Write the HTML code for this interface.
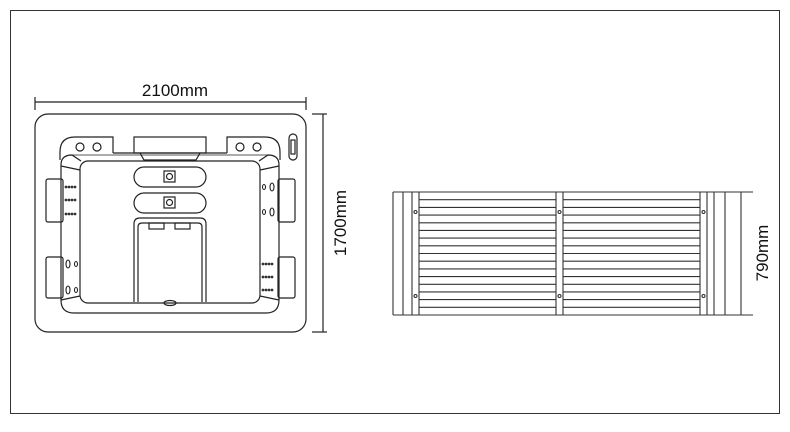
<!DOCTYPE html>
<html><head><style>body{margin:0;background:#fff}svg{display:block}</style></head><body>
<svg width="790" height="432" viewBox="0 0 790 432" xmlns="http://www.w3.org/2000/svg" font-family="Liberation Sans, sans-serif">
<rect x="10.5" y="10.5" width="769" height="403" fill="none" stroke="#333" stroke-width="1"/>
<g fill="none" stroke="#222" stroke-width="1.2">
<line x1="35" y1="102" x2="306" y2="102"/><line x1="35" y1="97" x2="35" y2="110"/><line x1="306" y1="97" x2="306" y2="110"/>
<line x1="323" y1="114" x2="323" y2="332"/><line x1="312" y1="114" x2="327" y2="114"/><line x1="312" y1="332" x2="327" y2="332"/>
<rect x="35" y="114" width="271" height="218" rx="13"/>
<rect x="46" y="179" width="17" height="43" rx="2"/><rect x="46" y="257" width="17" height="41" rx="2"/>
<rect x="278" y="179" width="17" height="43" rx="2"/><rect x="278" y="257" width="17" height="41" rx="2"/>
<path d="M60 160 L60 152 Q60 137 75 137 L113 137 L113 153 M227 153 L227 137 L265 137 Q280 137 280 152 L280 160"/>
<line x1="113" y1="153" x2="227" y2="153"/>
<rect x="134" y="137" width="72" height="16"/>
<path d="M140 153 L144 160 L196 160 L200 153"/>
<circle cx="80" cy="147" r="4"/><circle cx="97" cy="147" r="4"/><circle cx="240" cy="147" r="4"/><circle cx="257" cy="147" r="4"/>
<rect x="289" y="134" width="8" height="26" rx="4"/><rect x="291" y="140" width="4" height="14"/>
<path d="M61 165 Q61 155 72 155 L81 161 M61 165 L61 300 Q61 313 74 313 L266 313 Q279 313 279 300 L279 165 Q279 155 268 155 L259 161"/>
<path d="M72 155 L268 155" stroke-width="0.8"/>
<rect x="80" y="161" width="180" height="142" rx="8" fill="#fff"/>
<path d="M61 166 L80 170 M61 300 L80 296 M279 166 L260 170 M279 300 L260 296"/>
<rect x="134" y="167" width="72" height="20" rx="10"/><rect x="134" y="193" width="72" height="20" rx="10"/>
<rect x="164" y="171" width="11" height="11"/><circle cx="169.5" cy="176.5" r="3"/>
<rect x="164" y="197" width="11" height="11"/><circle cx="169.5" cy="202.5" r="3"/>
<path d="M134 302 L134 224 Q134 218 140 218 L200 218 Q206 218 206 224 L206 302"/>
<path d="M138 302 L138 227 Q138 223 142 223 L198 223 Q202 223 202 227 L202 302"/>
<rect x="149" y="223" width="15" height="6"/><rect x="175" y="223" width="15" height="6"/>
<ellipse cx="170" cy="303" rx="6" ry="2.5"/>
</g>
<g fill="#333">
<g id="dl"><circle cx="66" cy="187" r="1.4"/><circle cx="69" cy="187" r="1.4"/><circle cx="72" cy="187" r="1.4"/><circle cx="75" cy="187" r="1.4"/></g>
<use href="#dl" y="13"/><use href="#dl" y="27"/>
<use href="#dl" x="197" y="77"/><use href="#dl" x="197" y="90"/><use href="#dl" x="197" y="103"/>
</g>
<g fill="none" stroke="#222" stroke-width="1.1">
<ellipse cx="68" cy="264" rx="2" ry="4"/><ellipse cx="76" cy="264" rx="1.5" ry="2.5"/>
<ellipse cx="68" cy="290" rx="2" ry="4"/><ellipse cx="76" cy="290" rx="1.5" ry="2.5"/>
<ellipse cx="272" cy="187" rx="2" ry="4"/><ellipse cx="264" cy="187" rx="1.5" ry="2.5"/>
<ellipse cx="272" cy="212" rx="2" ry="4"/><ellipse cx="264" cy="212" rx="1.5" ry="2.5"/>
</g>
<text x="175" y="96" font-size="17" text-anchor="middle" fill="#111">2100mm</text>
<text transform="translate(346 223) rotate(-90)" font-size="17" text-anchor="middle" fill="#111">1700mm</text>
<g fill="none" stroke="#333" stroke-width="1.1">
<line x1="393" y1="192" x2="753" y2="192"/><line x1="393" y1="315" x2="753" y2="315"/>
<line x1="393" y1="192" x2="393" y2="315"/><line x1="403" y1="192" x2="403" y2="315"/><line x1="412" y1="192" x2="412" y2="315"/><line x1="419" y1="192" x2="419" y2="315"/>
<line x1="556" y1="192" x2="556" y2="315"/><line x1="563" y1="192" x2="563" y2="315"/>
<line x1="700" y1="192" x2="700" y2="315"/><line x1="707" y1="192" x2="707" y2="315"/><line x1="714" y1="192" x2="714" y2="315"/><line x1="725" y1="192" x2="725" y2="315"/>
<line x1="741" y1="192" x2="741" y2="315"/>
<g id="sl">
<line x1="419" y1="199.7" x2="556" y2="199.7"/><line x1="419" y1="207.4" x2="556" y2="207.4"/><line x1="419" y1="215.1" x2="556" y2="215.1"/><line x1="419" y1="222.8" x2="556" y2="222.8"/><line x1="419" y1="230.4" x2="556" y2="230.4"/><line x1="419" y1="238.1" x2="556" y2="238.1"/><line x1="419" y1="245.8" x2="556" y2="245.8"/><line x1="419" y1="253.5" x2="556" y2="253.5"/><line x1="419" y1="261.2" x2="556" y2="261.2"/><line x1="419" y1="268.9" x2="556" y2="268.9"/><line x1="419" y1="276.6" x2="556" y2="276.6"/><line x1="419" y1="284.3" x2="556" y2="284.3"/><line x1="419" y1="291.9" x2="556" y2="291.9"/><line x1="419" y1="299.6" x2="556" y2="299.6"/><line x1="419" y1="307.3" x2="556" y2="307.3"/>
</g>
<use href="#sl" x="144"/>
<circle cx="415.5" cy="212" r="1.5"/><circle cx="415.5" cy="296" r="1.5"/>
<circle cx="559.5" cy="212" r="1.5"/><circle cx="559.5" cy="296" r="1.5"/>
<circle cx="703.5" cy="212" r="1.5"/><circle cx="703.5" cy="296" r="1.5"/>
</g>
<text transform="translate(768 253) rotate(-90)" font-size="17" text-anchor="middle" fill="#111">790mm</text>
</svg>
</body></html>
